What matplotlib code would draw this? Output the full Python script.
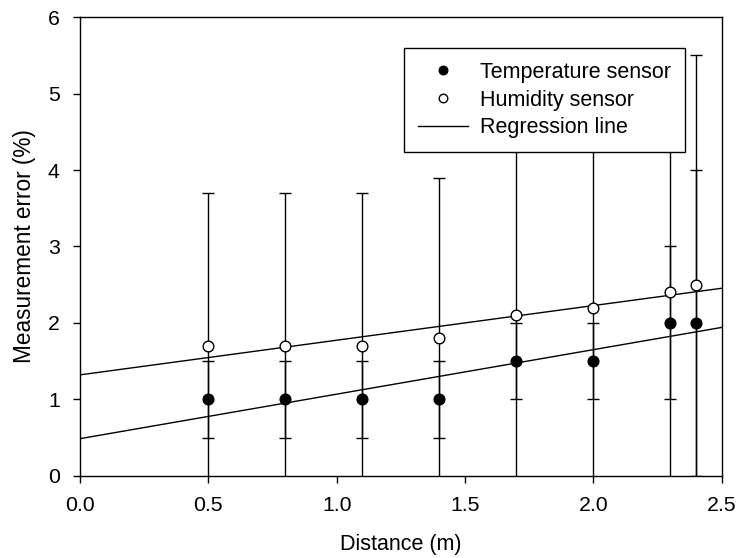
import numpy as np
import matplotlib
matplotlib.use("Agg")
import matplotlib.pyplot as plt

plt.rcParams['font.family'] = ['Liberation Sans', 'DejaVu Sans']

distance = [0.5, 0.8, 1.1, 1.4, 1.7, 2.0, 2.3, 2.4]
temp_err_mean = [1.0, 1.0, 1.0, 1.0, 1.5, 1.5, 2.0, 2.0]
temp_err_sd = [0.5, 0.5, 0.5, 0.5, 0.5, 0.5, 1.0, 2.0]
hum_err_mean = [1.7, 1.7, 1.7, 1.8, 2.1, 2.2, 2.4, 2.5]
hum_err_sd = [2.0, 2.0, 2.0, 2.1, 2.5, 2.6, 2.6, 3.0]
x_ticks = [0.0, 0.5, 1.0, 1.5, 2.0, 2.5]
y_ticks = [0, 1, 2, 3, 4, 5, 6]

FS = 15.3

fig = plt.figure(figsize=(7.36, 5.58), dpi=100)
ax = fig.add_axes([0.1087, 0.147, 0.8719, 0.8225])

x = np.array(distance)
lw = 1.0
ax.errorbar(x, hum_err_mean, yerr=hum_err_sd, fmt='none', ecolor='black',
            elinewidth=lw, capsize=4.6, capthick=lw, zorder=2)
ax.errorbar(x, temp_err_mean, yerr=temp_err_sd, fmt='none', ecolor='black',
            elinewidth=lw, capsize=4.6, capthick=lw, zorder=2)

xx = np.array([0.0, 2.5])
for ys in (temp_err_mean, hum_err_mean):
    b, a = np.polyfit(x, ys, 1)
    ax.plot(xx, a + b * xx, color='black', lw=lw, zorder=3)

ax.plot(x, temp_err_mean, 'o', ms=7.7, mfc='black', mec='black', mew=1,
        ls='none', zorder=4, label='Temperature sensor')
ax.plot(x, hum_err_mean, 'o', ms=7.7, mfc='white', mec='black', mew=1,
        ls='none', zorder=4, label='Humidity sensor')
ax.plot([], [], color='black', lw=lw, label='Regression line')

ax.set_xlim(0, 2.5)
ax.set_ylim(0, 6)
ax.set_xticks(x_ticks)
ax.set_xticklabels([f"{t:.1f}" for t in x_ticks])
ax.set_yticks(y_ticks)
ax.tick_params(direction='out', length=4.7, width=1, labelsize=FS, top=False, right=False,
               pad=9.8)
for s in ax.spines.values():
    s.set_linewidth(1)
ax.set_xlabel('Distance (m)', fontsize=15.5, labelpad=13.5)
ax.set_ylabel('Measurement error (%)', fontsize=16.3, labelpad=8.5)

leg = ax.legend(loc='upper right', bbox_to_anchor=(0.943, 0.932), borderaxespad=0,
                fontsize=15.5, frameon=True, fancybox=False, edgecolor='black',
                framealpha=1, markerscale=0.8, handlelength=2.3, handletextpad=0.59,
                labelspacing=0.31, borderpad=0.64)
leg.get_frame().set_linewidth(1)
leg.set_zorder(10)

fig.savefig('out.png', dpi=100)
